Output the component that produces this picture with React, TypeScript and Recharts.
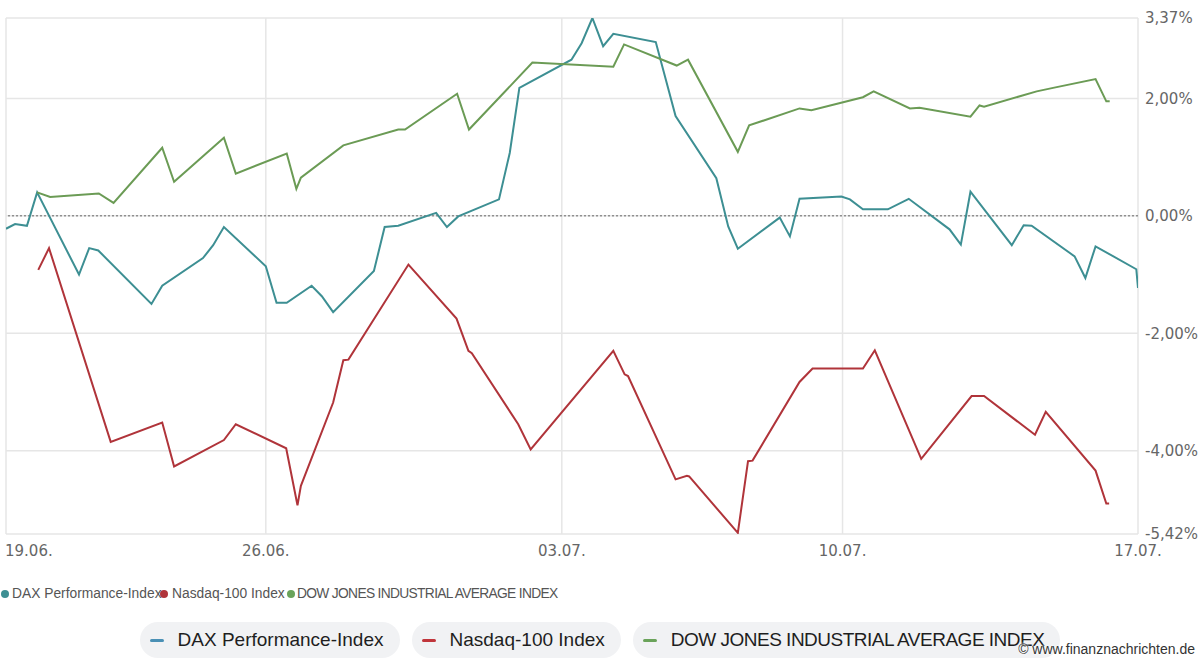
import { LineChart, Line, XAxis, YAxis, CartesianGrid, ReferenceLine } from "recharts";

// x = trading days since 19.06., y = performance in %
const dateTicks = [0, 4.59, 9.82, 14.78, 20];
const dateLabels = ["19.06.", "26.06.", "03.07.", "10.07.", "17.07."];
const valueTicks = [-5.42, -4, -2, 0, 2, 3.37];

const daxDays = [
  0, 0.16, 0.37, 0.55, 1.29, 1.47, 1.63, 2.57, 2.76, 3.48, 3.66, 3.85, 4.59, 4.78, 4.96, 5.4, 5.58,
  5.78, 6.5, 6.69, 6.93, 7.6, 7.79, 7.99, 8.71, 8.9, 9.07, 9.99, 10.17, 10.36, 10.55, 10.73, 11.48,
  11.83, 12.55, 12.76, 12.93, 13.67, 13.85, 14.02, 14.76, 14.91, 15.14, 15.58, 15.95, 16.67, 16.87,
  17.04, 17.77, 17.98, 18.12, 18.88, 19.07, 19.25, 19.97, 20,
];
const daxValues = [
  -0.22, -0.14, -0.17, 0.4, -1.0, -0.55, -0.59, -1.5, -1.19, -0.72, -0.5, -0.19, -0.86, -1.48, -1.48,
  -1.19, -1.37, -1.64, -0.94, -0.19, -0.17, 0.05, -0.19, -0.01, 0.28, 1.07, 2.18, 2.66, 2.94, 3.37,
  2.89, 3.1, 2.96, 1.7, 0.64, -0.18, -0.56, -0.03, -0.35, 0.29, 0.33, 0.28, 0.11, 0.11, 0.29, -0.23,
  -0.49, 0.41, -0.5, -0.16, -0.17, -0.69, -1.06, -0.52, -0.91, -1.23,
];

const nasdaqDays = [
  0.57, 0.76, 1.85, 2.76, 2.97, 3.85, 4.06, 4.95, 5.15, 5.21, 5.78, 5.96, 6.05, 7.11, 7.96, 8.17,
  8.23, 9.05, 9.27, 10.73, 10.93, 10.99, 11.83, 12.03, 12.07, 12.93, 13.11, 13.19, 14.02, 14.25,
  15.14, 15.35, 16.17, 17.06, 17.28, 18.18, 18.37, 19.25, 19.44, 19.49,
];
const nasdaqValues = [
  -0.92, -0.55, -3.85, -3.52, -4.27, -3.82, -3.55, -3.96, -4.93, -4.6, -3.18, -2.46, -2.45, -0.83,
  -1.75, -2.3, -2.34, -3.55, -3.98, -2.3, -2.7, -2.73, -4.49, -4.43, -4.44, -5.4, -4.18, -4.17,
  -2.83, -2.6, -2.6, -2.29, -4.14, -3.07, -3.07, -3.73, -3.34, -4.34, -4.9, -4.9,
];

const dowDays = [
  0.55, 0.78, 1.64, 1.9, 2.76, 2.97, 3.85, 4.06, 4.96, 5.13, 5.21, 5.96, 6.93, 7.05, 7.97, 8.18,
  9.3, 10.73, 10.92, 11.85, 12.05, 12.93, 13.13, 14.02, 14.23, 15.14, 15.33, 15.97, 16.14, 17.04,
  17.2, 17.28, 18.21, 18.5, 19.25, 19.44, 19.5,
];
const dowValues = [
  0.4, 0.32, 0.38, 0.22, 1.16, 0.58, 1.33, 0.72, 1.06, 0.46, 0.65, 1.2, 1.47, 1.47, 2.08, 1.47,
  2.61, 2.54, 2.92, 2.56, 2.66, 1.09, 1.54, 1.83, 1.8, 2.02, 2.12, 1.83, 1.84, 1.69, 1.88, 1.86,
  2.12, 2.18, 2.33, 1.95, 1.95,
];

const toPoints = (days: number[], values: number[]) => days.map((t, i) => ({ t, v: values[i] }));

const series = [
  { name: "DAX Performance-Index", data: toPoints(daxDays, daxValues), color: "#3d8f93", dot: "#3d8f93", dash: "#4a90b5", caps: false },
  { name: "Nasdaq-100 Index", data: toPoints(nasdaqDays, nasdaqValues), color: "#b0343a", dot: "#b0343a", dash: "#c0353b", caps: false },
  { name: "DOW JONES INDUSTRIAL AVERAGE INDEX", data: toPoints(dowDays, dowValues), color: "#6b9b55", dot: "#6aa35a", dash: "#6aa35a", caps: true },
];

const axisFont = "'DejaVu Sans', Verdana, sans-serif";
const formatPct = (v: number) => v.toFixed(2).replace(".", ",") + "%";

function DateTick(props: any) {
  const { x, y, payload } = props;
  const i = dateTicks.indexOf(payload.value);
  const first = i === 0;
  return (
    <text
      x={first ? x - 1 : x}
      y={y}
      dy={14}
      textAnchor={first ? "start" : "middle"}
      fill="#666"
      fontSize={15}
      fontFamily={axisFont}
    >
      {dateLabels[i]}
    </text>
  );
}

export default function App() {
  return (
    <div
      style={{
        position: "absolute",
        left: 0,
        top: 0,
        width: 1200,
        height: 665,
        background: "#fff",
        fontFamily: "'Liberation Sans', Arial, sans-serif",
        overflow: "hidden",
      }}
    >
      <LineChart width={1200} height={565} margin={{ top: 18, right: 0, left: 6, bottom: 0 }}>
        <CartesianGrid stroke="#e6e6e6" strokeWidth={1.5} vertical horizontal />
        <XAxis
          dataKey="t"
          type="number"
          domain={[0, 20]}
          ticks={dateTicks}
          tick={<DateTick />}
          axisLine={false}
          tickLine={false}
          tickSize={0}
          tickMargin={8}
          height={31}
          allowDataOverflow
        />
        <YAxis
          orientation="right"
          type="number"
          domain={[-5.42, 3.37]}
          ticks={valueTicks}
          tickFormatter={formatPct}
          axisLine={false}
          tickLine={false}
          tickSize={0}
          tickMargin={7}
          width={62}
          tick={{ fill: "#666", fontSize: 15, fontFamily: axisFont, textAnchor: "start" }}
          allowDataOverflow
        />
        <ReferenceLine y={0} stroke="#666" strokeDasharray="2 2" strokeWidth={1} />
        {series.map((s) => (
          <Line
            key={s.name}
            data={s.data}
            dataKey="v"
            name={s.name}
            type="linear"
            stroke={s.color}
            strokeWidth={2}
            dot={false}
            isAnimationActive={false}
          />
        ))}
      </LineChart>

      {/* small legend */}
      <div style={{ position: "absolute", top: 586, left: 0, height: 16, width: 600, fontSize: 13.8, color: "#555" }}>
        {series.map((s, i) => {
          const dotX = [5, 164, 291][i];
          const textX = [12, 172, 297][i];
          return (
            <div key={s.name}>
              <span
                style={{
                  position: "absolute",
                  left: dotX - 4,
                  top: 4,
                  width: 8,
                  height: 8,
                  borderRadius: 4,
                  background: s.dot,
                  zIndex: 2,
                }}
              />
              <span
                style={{
                  position: "absolute",
                  left: textX,
                  top: 0,
                  whiteSpace: "nowrap",
                  lineHeight: "16px",
                  letterSpacing: s.caps ? -0.68 : 0,
                }}
              >
                {s.name}
              </span>
            </div>
          );
        })}
      </div>

      {/* pill legend */}
      <div
        style={{
          position: "absolute",
          top: 622,
          left: 0,
          width: 1200,
          display: "flex",
          justifyContent: "center",
          gap: 12,
        }}
      >
        {series.map((s) => (
          <div
            key={s.name}
            style={{
              display: "flex",
              alignItems: "center",
              height: 36,
              padding: "0 16px 0 10px",
              borderRadius: 18,
              background: "#f1f2f4",
              fontSize: 19,
              color: "#1e1e1e",
              whiteSpace: "nowrap",
              letterSpacing: s.caps ? -0.5 : 0,
            }}
          >
            <span style={{ display: "inline-block", width: 14, height: 3, borderRadius: 2, background: s.dash, marginRight: 14 }} />
            {s.name}
          </div>
        ))}
      </div>

      <div
        style={{
          position: "absolute",
          right: 5,
          top: 641,
          fontSize: 14,
          color: "#333",
          textShadow: "0 0 2px #fff, 0 0 2px #fff",
          whiteSpace: "nowrap",
        }}
      >
        © www.finanznachrichten.de
      </div>
    </div>
  );
}
